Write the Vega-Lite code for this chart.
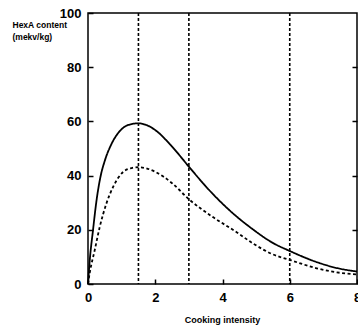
{
  "$schema": "https://vega.github.io/schema/vega-lite/v6.json",
  "autosize": "none",
  "width": 269,
  "height": 271,
  "padding": {"left": 88, "top": 13, "right": 1, "bottom": 43},
  "background": "white",
  "config": {
    "view": {"stroke": "black", "strokeWidth": 1.5},
    "font": "Liberation Sans",
    "axis": {"grid": false, "domain": false, "labelFont": "Liberation Sans", "labelFontWeight": "bold", "labelColor": "black", "titleColor": "black", "tickColor": "black", "titleFont": "Liberation Sans", "titleFontWeight": "bold"}
  },
  "datasets": {
    "curves": [
      {"t": 0, "v": 0, "s": "a"},
      {"t": 0.05, "v": 8.5, "s": "a"},
      {"t": 0.15, "v": 20, "s": "a"},
      {"t": 0.25, "v": 30.5, "s": "a"},
      {"t": 0.37, "v": 39.5, "s": "a"},
      {"t": 0.5, "v": 45.5, "s": "a"},
      {"t": 0.7, "v": 51.7, "s": "a"},
      {"t": 0.95, "v": 56.5, "s": "a"},
      {"t": 1.2, "v": 58.7, "s": "a"},
      {"t": 1.5, "v": 59.3, "s": "a"},
      {"t": 1.75, "v": 58.6, "s": "a"},
      {"t": 2, "v": 56.8, "s": "a"},
      {"t": 2.5, "v": 50.7, "s": "a"},
      {"t": 3, "v": 43.3, "s": "a"},
      {"t": 3.6, "v": 34.7, "s": "a"},
      {"t": 4.2, "v": 27.3, "s": "a"},
      {"t": 4.9, "v": 20.2, "s": "a"},
      {"t": 5.45, "v": 15.5, "s": "a"},
      {"t": 6.05, "v": 11.9, "s": "a"},
      {"t": 6.8, "v": 8.1, "s": "a"},
      {"t": 7.4, "v": 5.9, "s": "a"},
      {"t": 8, "v": 4.6, "s": "a"},
      {"t": 0, "v": 0, "s": "b"},
      {"t": 0.05, "v": 4, "s": "b"},
      {"t": 0.2, "v": 12.5, "s": "b"},
      {"t": 0.35, "v": 21.1, "s": "b"},
      {"t": 0.55, "v": 29.8, "s": "b"},
      {"t": 0.75, "v": 35.9, "s": "b"},
      {"t": 1.05, "v": 41.4, "s": "b"},
      {"t": 1.3, "v": 42.8, "s": "b"},
      {"t": 1.5, "v": 43.1, "s": "b"},
      {"t": 2, "v": 41.4, "s": "b"},
      {"t": 2.5, "v": 37.2, "s": "b"},
      {"t": 3, "v": 31.3, "s": "b"},
      {"t": 3.7, "v": 24.8, "s": "b"},
      {"t": 4.4, "v": 19.3, "s": "b"},
      {"t": 4.9, "v": 15, "s": "b"},
      {"t": 5.45, "v": 11.2, "s": "b"},
      {"t": 6.05, "v": 8.7, "s": "b"},
      {"t": 6.8, "v": 5.8, "s": "b"},
      {"t": 7.4, "v": 4.3, "s": "b"},
      {"t": 8, "v": 3.5, "s": "b"}
    ],
    "marks": [{"t": 1.5}, {"t": 3}, {"t": 6}]
  },
  "layer": [
    {
      "data": {"name": "marks"},
      "mark": {"type": "rule", "color": "black", "strokeWidth": 1.6, "strokeDash": [3, 2]},
      "encoding": {
        "x": {"field": "t", "type": "quantitative", "scale": {"domain": [0, 8], "nice": false}}
      }
    },
    {
      "data": {"name": "curves"},
      "mark": {"type": "line", "color": "black", "strokeWidth": 1.8, "interpolate": "monotone"},
      "encoding": {
        "x": {"field": "t", "type": "quantitative", "scale": {"domain": [0, 8], "nice": false},
          "axis": {"values": [0, 2, 4, 6, 8], "tickSize": -5, "tickWidth": 1.5, "labelFontSize": 13, "labelPadding": 12, "labelFlush": false,
            "title": "Cooking intensity", "titleFontSize": 9, "titleBaseline": "top", "titleY": 31, "titleX": 134}},
        "y": {"field": "v", "type": "quantitative", "scale": {"domain": [0, 100], "nice": false},
          "axis": {"values": [0, 20, 40, 60, 80, 100], "tickSize": -5, "tickWidth": 1.5, "labelFontSize": 13, "labelPadding": 12,
            "title": ["HexA content", "(mekv/kg)"], "titleAngle": 0, "titleAlign": "left", "titleBaseline": "top", "titleX": -76, "titleY": 7, "titleFontSize": 8.5, "titleLineHeight": 12}},
        "detail": {"field": "s", "type": "nominal"},
        "strokeDash": {"field": "s", "type": "nominal", "scale": {"domain": ["a", "b"], "range": [[1, 0], [3, 2.5]]}, "legend": null}
      }
    },
    {
      "data": {"name": "marks"},
      "mark": {"type": "point", "opacity": 0},
      "encoding": {
        "y": {"datum": 0, "type": "quantitative", "scale": {"domain": [0, 100], "nice": false},
          "axis": {"orient": "right", "values": [20, 40, 60, 80], "labels": false, "tickSize": -5, "tickWidth": 1.5, "title": null}}
      }
    }
  ],
  "resolve": {"axis": {"y": "independent"}}
}
